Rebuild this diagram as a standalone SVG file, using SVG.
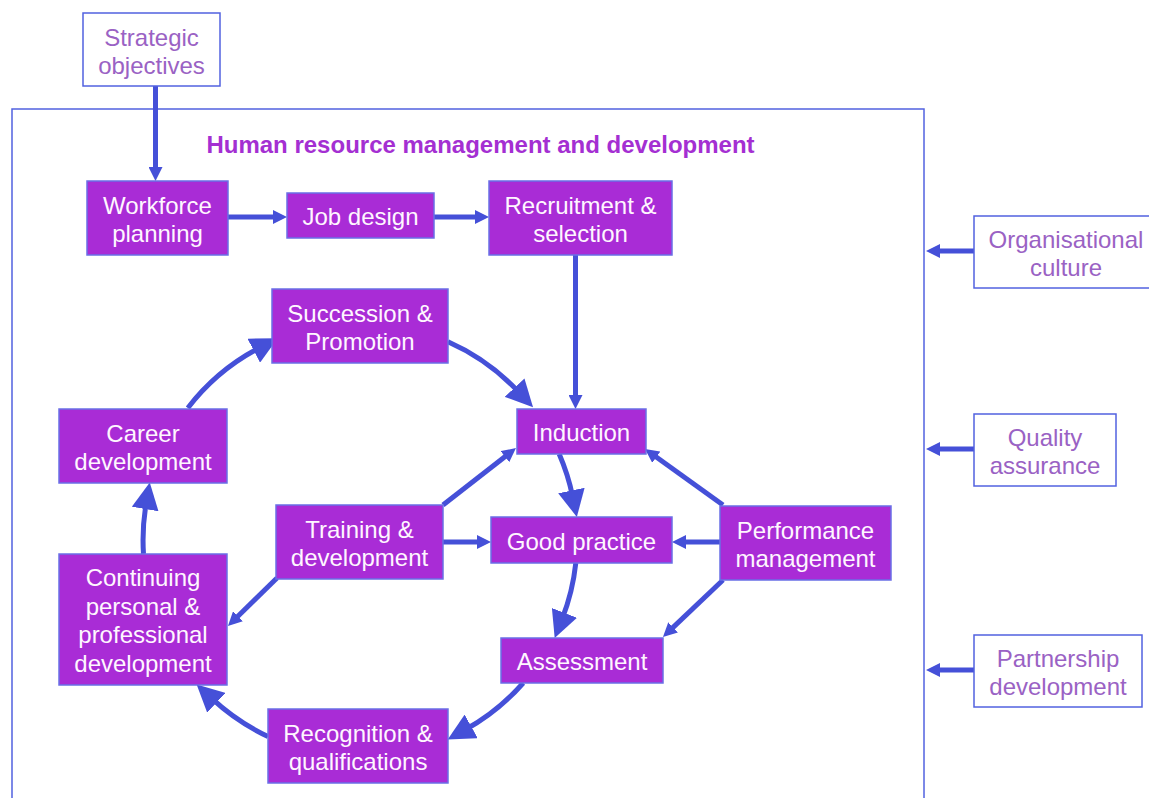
<svg xmlns="http://www.w3.org/2000/svg" width="1149" height="798" viewBox="0 0 1149 798">
<style>
.n rect{fill:#A92CD6;stroke:#6A6FE6;stroke-width:1.5}
.n text{fill:#FFF6FF;font-family:"Liberation Sans",Arial,sans-serif;font-size:24px;text-anchor:middle}
.o rect{fill:#FFFFFF;stroke:#5262E0;stroke-width:1.5}
.o text{fill:#9A62C4;font-family:"Liberation Sans",Arial,sans-serif;font-size:24px;text-anchor:middle}
.c path{fill:none;stroke:#4550D8;stroke-width:5}
.s{marker-end:url(#sm)}
.b{marker-end:url(#bg)}
</style>
<defs>
<marker id="sm" markerUnits="userSpaceOnUse" markerWidth="14" markerHeight="14" refX="4" refY="7" orient="auto"><path d="M0,0 L14,7 L0,14 z" fill="#4550D8"/></marker>
<marker id="bg" markerUnits="userSpaceOnUse" markerWidth="27" markerHeight="27" refX="6" refY="13.5" orient="auto"><path d="M0,0 L27,13.5 L0,27 z" fill="#4550D8"/></marker>
</defs>
<rect id="frame" x="12" y="109" width="912" height="710" fill="none" stroke="#5262E0" stroke-width="1.5"/>
<text id="title" x="480.5" y="152.5" fill="#A42FD2" font-family="Liberation Sans,Arial,sans-serif" font-size="24" font-weight="bold" text-anchor="middle">Human resource management and development</text>
<g class="c" id="connectors">
<path class="s" d="M155.5,86 V171"/>
<path class="s" d="M228,217 H277"/>
<path class="s" d="M434,217 H479"/>
<path class="s" d="M575.5,255 V399"/>
<path class="s" d="M443,542 H481"/>
<path class="s" d="M720,542 H682"/>
<path class="s" d="M443,505 L508.1,454.2"/>
<path class="s" d="M277,578 L235.1,619"/>
<path class="s" d="M723,505 L653.1,454.8"/>
<path class="s" d="M723,580 L670.2,630.1"/>
<path class="s" d="M974,251 H936"/>
<path class="s" d="M974,449 H936"/>
<path class="s" d="M974,670 H936"/>
<path class="b" d="M187.8,407.9 A217,217 0 0 1 259.1,347.9"/>
<path class="b" d="M448,341.7 A217,217 0 0 1 518.7,392"/>
<path class="b" d="M559.2,454 A217,217 0 0 1 572.6,496.4"/>
<path class="b" d="M575.8,563 A217,217 0 0 1 562.3,618.5"/>
<path class="b" d="M523.2,683 A217,217 0 0 1 466,729.3"/>
<path class="b" d="M268,736.5 A217,217 0 0 1 212,698.7"/>
<path class="b" d="M143.5,554 A217,217 0 0 1 146.2,503.1"/>
</g>
<g id="strategic" class="o"><rect x="83" y="13" width="137" height="73"/><text x="151.5" y="45.5">Strategic</text><text x="151.5" y="73.5">objectives</text></g>
<g id="culture" class="o"><rect x="974" y="216" width="185" height="72"/><text x="1066" y="248">Organisational</text><text x="1066" y="276">culture</text></g>
<g id="quality" class="o"><rect x="974" y="414" width="142" height="72"/><text x="1045" y="446">Quality</text><text x="1045" y="474">assurance</text></g>
<g id="partnership" class="o"><rect x="974" y="635" width="168" height="72"/><text x="1058" y="667">Partnership</text><text x="1058" y="695">development</text></g>
<g id="workforce" class="n"><rect x="87" y="181" width="141" height="74"/><text x="157.5" y="213.5">Workforce</text><text x="157.5" y="241.5">planning</text></g>
<g id="jobdesign" class="n"><rect x="287" y="193" width="147" height="45"/><text x="360.5" y="225">Job design</text></g>
<g id="recruitment" class="n"><rect x="489" y="181" width="183" height="74"/><text x="580.5" y="213.5">Recruitment &amp;</text><text x="580.5" y="241.5">selection</text></g>
<g id="succession" class="n"><rect x="272" y="289" width="176" height="74"/><text x="360" y="321.5">Succession &amp;</text><text x="360" y="349.5">Promotion</text></g>
<g id="induction" class="n"><rect x="517" y="409" width="129" height="45"/><text x="581.5" y="441">Induction</text></g>
<g id="career" class="n"><rect x="59" y="409" width="168" height="74"/><text x="143" y="441.5">Career</text><text x="143" y="469.5">development</text></g>
<g id="training" class="n"><rect x="276" y="505" width="167" height="74"/><text x="359.5" y="537.5">Training &amp;</text><text x="359.5" y="565.5">development</text></g>
<g id="goodpractice" class="n"><rect x="491" y="517" width="181" height="46"/><text x="581.5" y="549.5">Good practice</text></g>
<g id="performance" class="n"><rect x="720" y="506" width="171" height="74"/><text x="805.5" y="538.5">Performance</text><text x="805.5" y="566.5">management</text></g>
<g id="continuing" class="n"><rect x="59" y="554" width="168" height="131"/><text x="143" y="586">Continuing</text><text x="143" y="614.5">personal &amp;</text><text x="143" y="643">professional</text><text x="143" y="671.5">development</text></g>
<g id="assessment" class="n"><rect x="501" y="638" width="162" height="45"/><text x="582" y="670">Assessment</text></g>
<g id="recognition" class="n"><rect x="268" y="709" width="180" height="74"/><text x="358" y="741.5">Recognition &amp;</text><text x="358" y="769.5">qualifications</text></g>
</svg>
